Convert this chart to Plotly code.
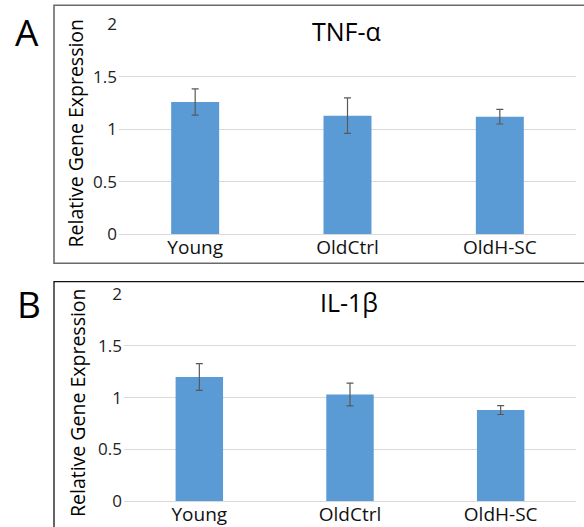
import plotly.graph_objects as go

categories = ["Young", "OldCtrl", "OldH-SC"]
tnf_values = [1.26, 1.13, 1.12]
tnf_errors = [0.125, 0.17, 0.07]
il1b_values = [1.20, 1.03, 0.88]
il1b_errors = [0.13, 0.11, 0.043]
y_ticks = [0, 0.5, 1, 1.5, 2]
y_tick_labels = ["0", "0.5", "1", "1.5", "2"]
panel_titles = ["TNF-α", "IL-1β"]
panel_letters = ["A", "B"]
y_title = "Relative Gene Expression"

W, H = 584, 527
FONT = "Open Sans"
BAR_COLOR = "#5b9bd5"
ERR_COLOR = "#595959"
GRID = "#d9d9d9"


def px(x):
    return x / W


def py(y):
    return 1 - y / H


fig = go.Figure()
fig.add_trace(go.Bar(
    x=categories, y=tnf_values, marker=dict(color=BAR_COLOR, line=dict(width=0)),
    error_y=dict(type="data", array=tnf_errors, visible=True, color=ERR_COLOR, thickness=1.2, width=3.5),
    xaxis="x", yaxis="y", showlegend=False,
))
fig.add_trace(go.Bar(
    x=categories, y=il1b_values, marker=dict(color=BAR_COLOR, line=dict(width=0)),
    error_y=dict(type="data", array=il1b_errors, visible=True, color=ERR_COLOR, thickness=1.2, width=3.5),
    xaxis="x2", yaxis="y2", showlegend=False,
))

yax = dict(
    range=[0, 2], tickvals=y_ticks, ticktext=y_tick_labels,
    showgrid=True, gridcolor=GRID, gridwidth=1.3,
    zeroline=True, zerolinecolor=GRID, zerolinewidth=1.3,
    showline=False, ticks="", ticklabelstandoff=1, automargin=False,
    tickfont=dict(family=FONT, size=17, color="#222222"),
)
xax = dict(
    showline=False, ticks="", showgrid=False, automargin=False,
    tickfont=dict(family=FONT, size=19, color="#111111"),
)

fig.update_layout(
    width=W, height=H,
    margin=dict(l=0, r=0, t=0, b=0, pad=0, autoexpand=False),
    paper_bgcolor="white", plot_bgcolor="white",
    bargap=0.685,
    xaxis=dict(domain=[px(119), px(576)], anchor="y", **xax),
    yaxis=dict(domain=[py(234), py(24.5)], anchor="x", **yax),
    xaxis2=dict(domain=[px(124), px(576)], anchor="y2", **xax),
    yaxis2=dict(domain=[py(501), py(294.3)], anchor="x2", **yax),
    font=dict(family=FONT),
)

fig.add_shape(type="rect", xref="paper", yref="paper",
              x0=px(54), x1=px(590), y0=py(263.3), y1=py(5.3),
              line=dict(color="#6a6a6a", width=1.6), layer="below")
fig.add_shape(type="rect", xref="paper", yref="paper",
              x0=px(54), x1=px(590), y0=py(540), y1=py(281.7),
              line=dict(color="#111111", width=1.3), layer="below")

letter_pos = [(26.7, 31.5), (28.5, 303.5)]
title_pos = [(346, 31), (349, 302)]
ytitle_pos = [(75, 133.5), (77, 403)]
for i in range(2):
    fig.add_annotation(text=panel_letters[i], x=px(letter_pos[i][0]), y=py(letter_pos[i][1]),
                       xref="paper", yref="paper", showarrow=False,
                       font=dict(family=FONT, size=37, color="black"),
                       xanchor="center", yanchor="middle")
    fig.add_annotation(text=panel_titles[i], x=px(title_pos[i][0]), y=py(title_pos[i][1]),
                       xref="paper", yref="paper", showarrow=False,
                       font=dict(family=FONT, size=25, color="black"),
                       xanchor="center", yanchor="middle")
    fig.add_annotation(text=y_title, x=px(ytitle_pos[i][0]), y=py(ytitle_pos[i][1]),
                       xref="paper", yref="paper", showarrow=False, textangle=-90,
                       font=dict(family=FONT, size=19.5, color="black"),
                       xanchor="center", yanchor="middle")

post = (
    "document.documentElement.style.margin='0';"
    "document.documentElement.style.overflow='hidden';"
    "document.body.style.margin='0';"
    "document.body.style.overflow='hidden';"
)
fig.write_html("out.html", post_script=post, config={"displayModeBar": False})
